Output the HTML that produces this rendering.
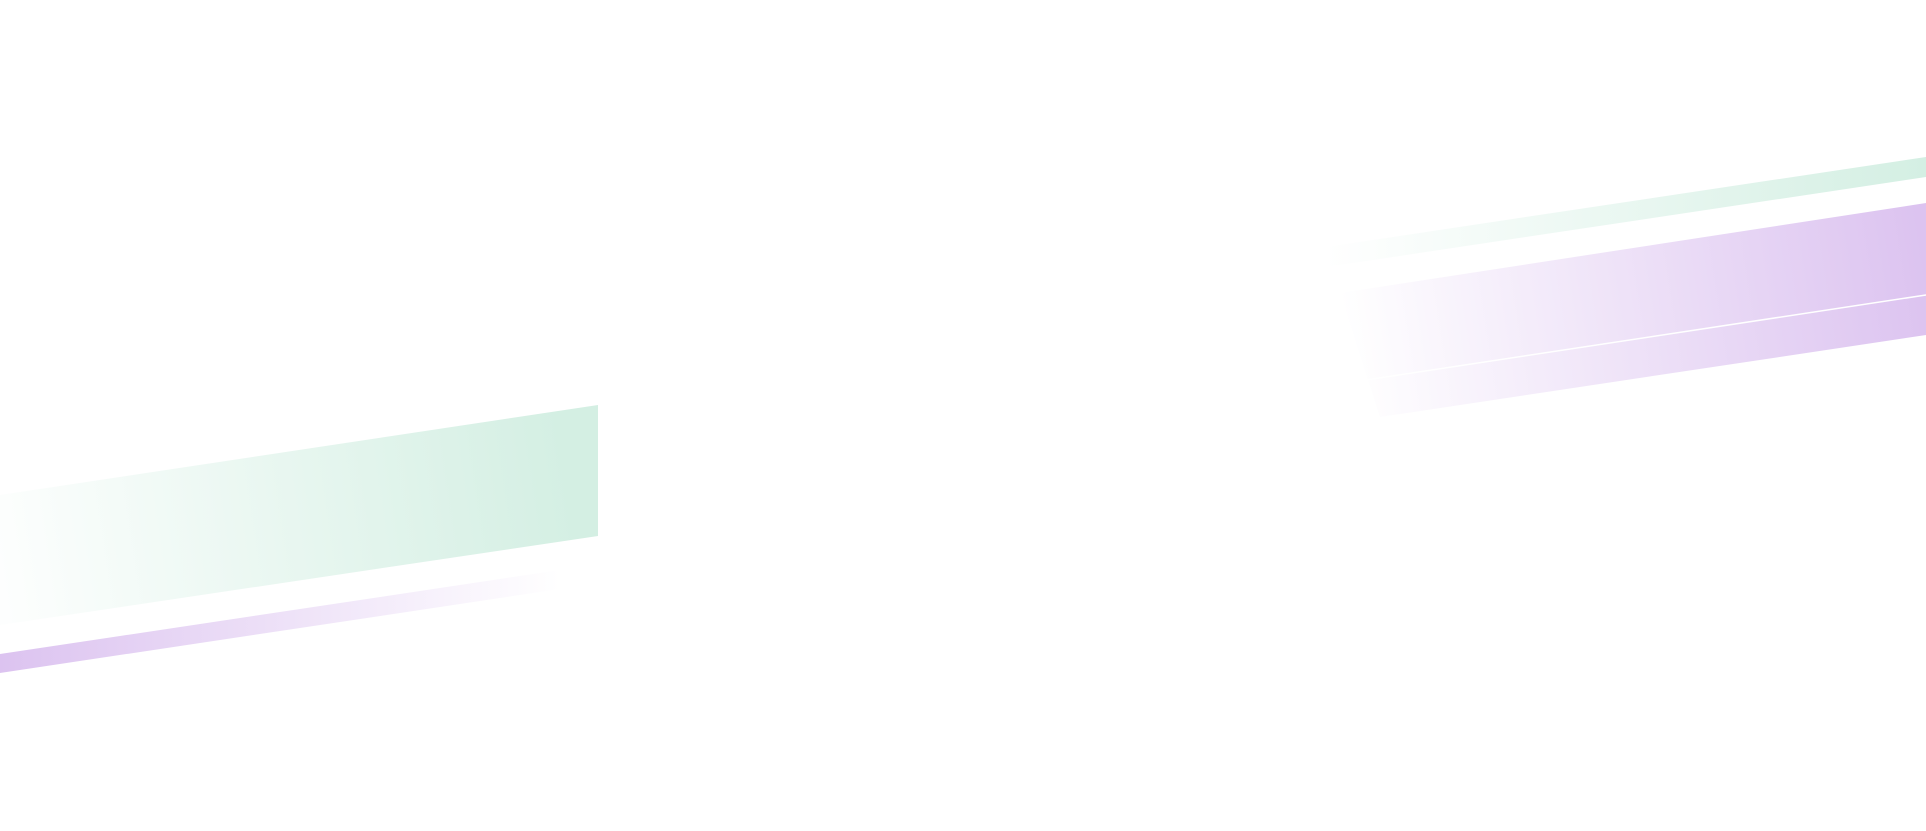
<!DOCTYPE html>
<html><head><style>html,body{margin:0;padding:0;background:#fff;width:1926px;height:831px;overflow:hidden}</style></head>
<body>
<svg width="1926" height="831" viewBox="0 0 1926 831" xmlns="http://www.w3.org/2000/svg">
<defs>
<linearGradient id="g1" gradientUnits="userSpaceOnUse" x1="0" y1="560" x2="598" y2="470"><stop offset="0" stop-color="#d4efe3" stop-opacity="0.05"/><stop offset="0.95" stop-color="#d4efe3"/></linearGradient>
<linearGradient id="p1" gradientUnits="userSpaceOnUse" x1="0" y1="0" x2="560" y2="0"><stop offset="0" stop-color="#dcc3f0"/><stop offset="1" stop-color="#dcc3f0" stop-opacity="0"/></linearGradient>
<linearGradient id="g2" gradientUnits="userSpaceOnUse" x1="1326" y1="0" x2="1926" y2="0"><stop offset="0" stop-color="#d4efe3" stop-opacity="0"/><stop offset="1" stop-color="#d4efe3"/></linearGradient>
<linearGradient id="p2" gradientUnits="userSpaceOnUse" x1="1350" y1="360" x2="1926" y2="270"><stop offset="0" stop-color="#dcc3f0" stop-opacity="0"/><stop offset="1" stop-color="#dcc3f0"/></linearGradient>
</defs>
<polygon points="0,495 598,405 598,536 0,625" fill="url(#g1)"/>
<polygon points="0,654 560,570 560,589 0,673" fill="url(#p1)"/>
<polygon points="1326,247 1926,157 1926,177 1326,267" fill="url(#g2)"/>
<polygon points="1340,293 1926,203 1926,335 1380,417" fill="url(#p2)"/>
<line x1="1333" y1="385" x2="1926" y2="295" stroke="#fff" stroke-width="1.5"/>
</svg>
</body></html>
